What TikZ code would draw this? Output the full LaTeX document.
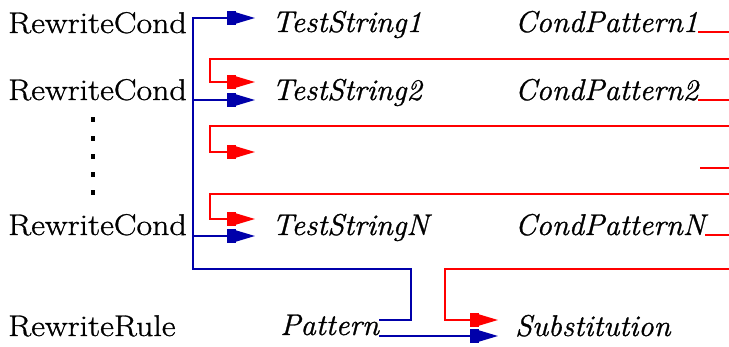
\documentclass[tikz,border=0pt]{standalone}
\usepackage{fontspec}
\newfontfamily\refrm{Latin Modern Roman}[FakeStretch=1.13,FakeBold=1]
\newfontfamily\refit{Latin Modern Roman}[FakeStretch=1.02,FakeBold=1]
\usetikzlibrary{arrows.meta}
\definecolor{refblue}{RGB}{0,0,170}
\definecolor{refred}{RGB}{255,0,0}
\tikzset{
  lbl/.style={anchor=base west, inner sep=0pt, font=\refrm\fontsize{30}{36}\selectfont},
  ilbl/.style={anchor=base west, inner sep=0pt, font=\refit\fontsize{30}{36}\selectfont\itshape},
  bref/.style={draw=refblue, line width=1.8pt},
  rref/.style={draw=refred, line width=1.8pt},
  reftip/.style={-{Rectangle[length=9pt,width=14pt,sep=-2pt]Triangle[length=21pt,width=12pt]}},
  vdot/.style={fill=black, minimum width=4pt, minimum height=5pt, inner sep=0pt, draw=none, rectangle},
}
\begin{document}
\begin{tikzpicture}[x=1pt,y=-1pt]
\useasboundingbox (0,0) rectangle (729,347);
% left labels
\node[lbl] (rc1) at (8,33) {RewriteCond};
\node[lbl] (rc2) at (8,100) {RewriteCond};
\node[lbl] (rcn) at (8,235) {RewriteCond};
\node[lbl] (rr) at (8,336) {RewriteRule};
% vertical dots
\node[vdot] (d1) at (93,120) {};
\node[vdot] (d2) at (93,139) {};
\node[vdot] (d3) at (93,157) {};
\node[vdot] (d4) at (93,175) {};
\node[vdot] (d5) at (93,193) {};
% middle / right labels
\node[ilbl] (ts1) at (272,32) {TestString1};
\node[ilbl] (ts2) at (272,100) {TestString2};
\node[ilbl] (tsn) at (272,235) {TestStringN};
\node[ilbl] (cp1) at (515,32) {CondPattern1};
\node[ilbl] (cp2) at (515,100) {CondPattern2};
\node[ilbl] (cpn) at (515,235) {CondPatternN};
\node[ilbl] (pat) at (280,335) {Pattern};
\node[ilbl] (sub) at (515,336) {Substitution};
% coordinates
\coordinate (in1) at (255,18);
\coordinate (in2b) at (255,100);
\coordinate (innb) at (255,236);
\coordinate (in2r) at (255,82);
\coordinate (in3r) at (255,152);
\coordinate (innr) at (255,219);
\coordinate (insr) at (498,320);
\coordinate (insb) at (498,336);
\coordinate (bv1) at (193,18);
\coordinate (bv2) at (193,100);
\coordinate (bvn) at (193,236);
\coordinate (bvb) at (193,269);
\coordinate (bturn) at (411,269);
\coordinate (bdown) at (411,320);
\coordinate (r2a) at (729,59);
\coordinate (r2b) at (210,59);
\coordinate (r2c) at (210,82);
\coordinate (r3a) at (729,126);
\coordinate (r3b) at (210,126);
\coordinate (r3c) at (210,152);
\coordinate (rna) at (729,194);
\coordinate (rnb) at (210,194);
\coordinate (rnc) at (210,219);
\coordinate (rsa) at (729,269);
\coordinate (rsb) at (445,269);
\coordinate (rsc) at (445,320);
\coordinate (cp3) at (700,168);
\coordinate (e1) at (729,32);
\coordinate (e2) at (729,100);
\coordinate (e3) at (729,168);
\coordinate (en) at (729,235);
% blue back-references
\draw[bref,reftip] ([yshift=15pt]pat.base east) -- (bdown) -- (bturn) -- (bvb) -- (bv1) -- (in1);
\draw[bref,reftip] (bv2) -- (in2b);
\draw[bref,reftip] (bvn) -- (innb);
\draw[bref,reftip] ([yshift=-1pt]pat.base east) -- (insb);
% red back-references
\draw[rref,reftip] (r2a) -- (r2b) -- (r2c) -- (in2r);
\draw[rref,reftip] (r3a) -- (r3b) -- (r3c) -- (in3r);
\draw[rref,reftip] (rna) -- (rnb) -- (rnc) -- (innr);
\draw[rref,reftip] (rsa) -- (rsb) -- (rsc) -- (insr);
\draw[rref] (cp1.base east) -- (e1);
\draw[rref] (cp2.base east) -- (e2);
\draw[rref] (cp3) -- (e3);
\draw[rref] (cpn.base east) -- (en);
\end{tikzpicture}
\end{document}
